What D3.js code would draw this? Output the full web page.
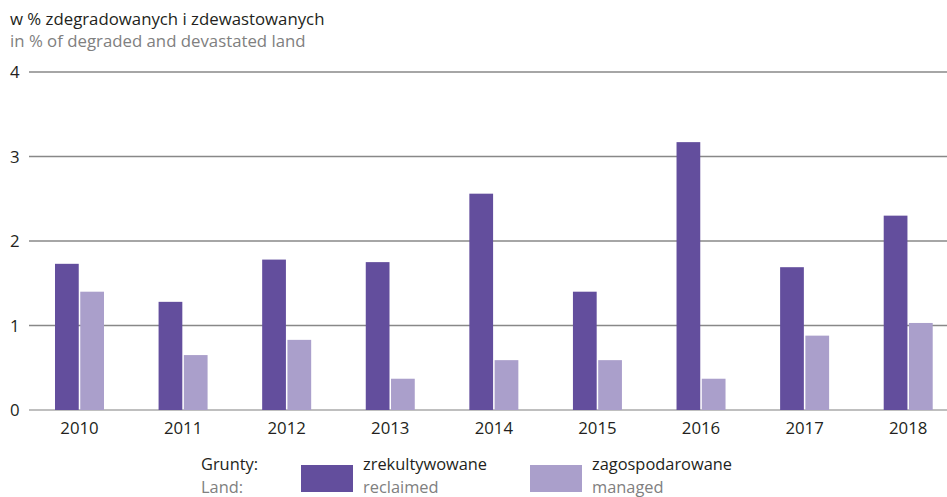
<!DOCTYPE html>
<html><head><meta charset="utf-8">
<script src="https://cdn.jsdelivr.net/npm/d3@7"></script>
<style>body{margin:0;background:#fff}svg{display:block;font-family:"Open Sans",sans-serif}</style>
</head><body><svg id="c" width="947" height="497"></svg>
<script>
const years = ["2010","2011","2012","2013","2014","2015","2016","2017","2018"];
const reclaimed = [1.73,1.28,1.78,1.75,2.56,1.40,3.17,1.69,2.30];
const managed = [1.40,0.65,0.83,0.37,0.59,0.59,0.37,0.88,1.03];
const yTicks = [0,1,2,3,4];
const seriesNames = ["zrekultywowane","zagospodarowane"];
const seriesNamesEn = ["reclaimed","managed"];
const colors = ["#634e9d","#aa9fcb"];

const svg = d3.select("#c");
const y = d3.scaleLinear().domain([0,4]).range([410,72]);
const x = d3.scaleBand().domain(years).range([27.7,960]).paddingInner(0);
const xs = d3.scaleBand().domain([0,1]).range([0,49]).paddingInner(0.06);
const gridX0 = 29, gridX1 = 947;
const FS = 16.8, LFS = 16.4;

svg.append("g").selectAll("line").data(yTicks).join("line")
  .attr("x1",gridX0).attr("x2",gridX1)
  .attr("y1",d=>y(d)).attr("y2",d=>y(d))
  .attr("stroke",d=>d===0?"#aaa":"#888").attr("stroke-width",1.3);

svg.append("g").selectAll("text").data(yTicks).join("text")
  .attr("x",10).attr("y",d=>y(d)+6).attr("font-size",FS).attr("fill","#231f20")
  .text(d=>d);

const data = [reclaimed, managed];
data.forEach((arr,si)=>{
  svg.append("g").selectAll("rect").data(arr).join("rect")
    .attr("x",(d,i)=>x(years[i])+x.bandwidth()/2-24.5+xs(si))
    .attr("width",xs.bandwidth())
    .attr("y",d=>y(d)).attr("height",d=>y(0)-y(d))
    .attr("fill",colors[si]);
});

svg.append("g").selectAll("text").data(years).join("text")
  .attr("x",d=>x(d)+x.bandwidth()/2).attr("y",434).attr("text-anchor","middle")
  .attr("font-size",FS).attr("fill","#231f20").text(d=>d);

svg.append("text").attr("x",10).attr("y",25).attr("font-size",FS).attr("fill","#231f20")
  .text("w % zdegradowanych i zdewastowanych");
svg.append("text").attr("x",10).attr("y",47).attr("font-size",FS).attr("fill","#808080")
  .text("in % of degraded and devastated land");

// legend
svg.append("text").attr("x",201).attr("y",470).attr("font-size",LFS).attr("fill","#231f20").text("Grunty:");
svg.append("text").attr("x",201).attr("y",493).attr("font-size",LFS).attr("fill","#808080").text("Land:");
const lx = [301,530];
seriesNames.forEach((n,i)=>{
  svg.append("rect").attr("x",lx[i]).attr("y",465).attr("width",52).attr("height",27).attr("fill",colors[i]);
  svg.append("text").attr("x",lx[i]+62).attr("y",470).attr("font-size",LFS).attr("fill","#231f20").text(n);
  svg.append("text").attr("x",lx[i]+62).attr("y",493).attr("font-size",LFS).attr("fill","#808080").text(seriesNamesEn[i]);
});
</script></body></html>
